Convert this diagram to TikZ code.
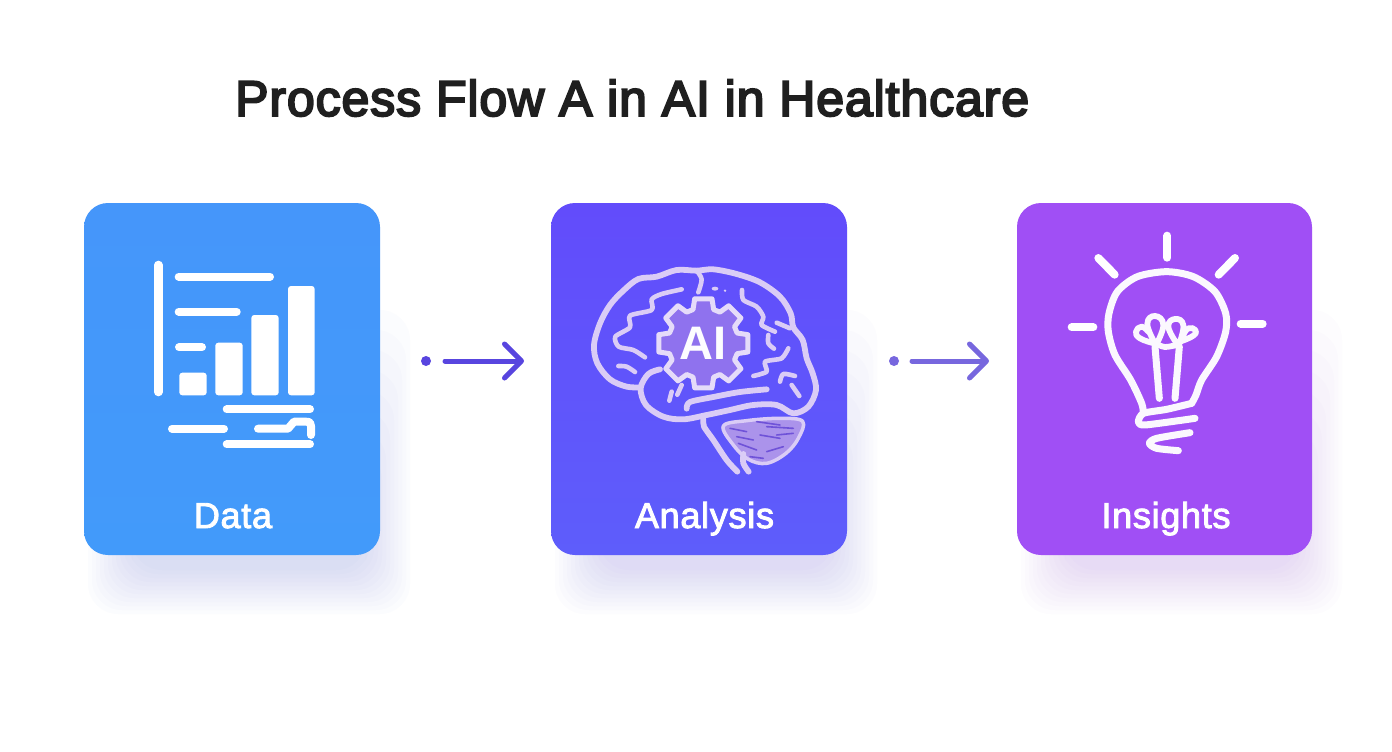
\documentclass[tikz,border=0pt]{standalone}
\usepackage{fontspec}
\setmainfont{Liberation Sans}
\newfontfamily\titlefont[LetterSpace=1.8]{Liberation Sans}
\newfontfamily\labelfont[LetterSpace=2]{Liberation Sans}
\usetikzlibrary{arrows.meta}
\definecolor{cblue}{HTML}{4596FA}
\definecolor{cviolet}{HTML}{664FFB}
\definecolor{cpurple}{HTML}{A04FF5}
\definecolor{sblue}{HTML}{3F66F0}
\definecolor{sviolet}{HTML}{6A4FF5}
\definecolor{spurple}{HTML}{A050F5}
\definecolor{lav}{HTML}{DACCF6}
\definecolor{gearfill}{HTML}{8F72EE}
\definecolor{cereb}{HTML}{AB93EB}
\definecolor{streak}{HTML}{6F52D8}
\definecolor{arrowa}{HTML}{5845DF}
\definecolor{arrowb}{HTML}{7767DE}
\newcommand{\medtext}[1]{\special{pdf:code 2 Tr 0.9 w}#1\special{pdf:code 0 Tr}}
\newcommand{\semibold}[1]{\special{pdf:code 2 Tr 2 w}#1\special{pdf:code 0 Tr}}
\tikzset{
 card/.style={rectangle,minimum width=296pt,minimum height=352pt,rounded corners=24pt,inner sep=0pt},
 cardlabel/.style={text=white,font=\labelfont\fontsize{36}{36}\selectfont,inner sep=0pt,anchor=base},
 dotnode/.style={circle,minimum size=10pt,inner sep=0pt},
 flowarrow/.style={line width=5pt,line cap=round,-{Straight Barb[length=17pt,width=34pt,round,line width=5pt]}},
 iconw/.style={white,line width=8pt,line cap=round,line join=round},
 ibar/.style={fill=white,rounded corners=3pt},
 brain/.style={lav,line width=5.8pt,line cap=round,line join=round},
 gyrus/.style={lav,line width=4.6pt,line cap=round,line join=round},
 bulb/.style={white!96!cpurple,line width=7pt,line cap=round,line join=round},
 petal/.style={bulb,line width=5.8pt},
}
\newcommand{\cardshadow}[3]{%
 \foreach \e in {32,28,...,-12}{%
  \fill[#3,opacity=0.016,rounded corners=30pt] (#1+22-\e,470-\e*5) rectangle (#2+12+\e,582+\e);
 }}
\begin{document}
\begin{tikzpicture}[x=1pt,y=-1pt]
\useasboundingbox (0,0) rectangle (1392,752);
\fill[white] (0,0) rectangle (1392,752);
\node[anchor=west,inner sep=0pt,font=\titlefont\fontsize{50}{50}\selectfont,text=black!88] (title) at (235,98) {\semibold{Process Flow A in AI in Healthcare}};

\cardshadow{98}{366}{sblue}
\cardshadow{565}{833}{sviolet}
\cardshadow{1031}{1298}{spurple}

\node[card,top color=cblue,bottom color=cblue!96!cyan] (data) at (232,379) {};
\node[card,top color=cviolet!96!blue,bottom color=cviolet!92!cyan] (analysis) at (699,379) {};
\node[card,minimum width=295pt,top color=cpurple,bottom color=cpurple] (insights) at (1164.5,379) {};

\node[cardlabel] (ldata) at (233,528) {\medtext{Data}};
\node[cardlabel] (lanalysis) at (704.5,528) {\medtext{Analysis}};
\node[cardlabel] (linsights) at (1166,528) {\medtext{Insights}};

% connectors
\node[dotnode,fill=arrowa] (d1) at (426,361) {};
\coordinate (s1) at (445,361);
\coordinate (e1) at (524,361);
\draw[flowarrow,arrowa] (s1) -- (e1);
\node[dotnode,fill=arrowb] (d2) at (894,361) {};
\coordinate (s2) at (912,361);
\coordinate (e2) at (989,361);
\draw[flowarrow,arrowb] (s2) -- (e2);

% data icon
\draw[iconw,line width=8.6pt] (158.3,265) -- (158.3,392);
\draw[iconw] (178.7,276.7) -- (270,276.7);
\draw[iconw] (178.7,311.7) -- (236.7,311.7);
\draw[iconw] (179,347.3) -- (202,347.3);
\fill[ibar] (179.3,372.7) rectangle (206.7,395.3);
\fill[ibar] (215.3,342.7) rectangle (242.7,395.3);
\fill[ibar] (251.3,315) rectangle (278.7,395.3);
\fill[ibar] (288,286) rectangle (314.7,395.3);
\draw[iconw] (226.7,409.3) -- (310,409.3);
\draw[iconw] (172,428.7) -- (224,428.7);
\draw[iconw] (258,428.7) -- (288,428.7) -- (294,421.7) -- (306,421.7) .. controls (310,421.7) and (311,423) .. (311,426) -- (311,435);
\draw[iconw] (226.7,444.3) -- (310,444.3);

% brain icon
\begin{scope}[shift={(580,250)},x=0.33333pt,y=-0.33333pt]
 \fill[cereb] plot[smooth cycle,tension=.6] coordinates {(430,528) (500,512) (600,505) (668,514) (655,565) (618,610) (560,640) (505,628) (460,585)};
 \draw[brain,line width=3.5pt] plot[smooth cycle,tension=.6] coordinates {(430,528) (500,512) (600,505) (668,514) (655,565) (618,610) (560,640) (505,628) (460,585)};
 \foreach \a/\b/\c/\d in {450/535/500/545, 530/515/600/525, 560/530/640/535, 470/560/520/570, 540/555/600/565, 475/580/530/600, 560/605/610/590, 510/620/550/625, 590/555/640/550}{
  \draw[streak,line width=1.6pt,line cap=round] (\a,\b) -- (\c,\d);
 }
 \draw[brain] plot[smooth,tension=.55] coordinates {(240,358) (205,372) (182,415) (198,465) (250,500) (310,508) (380,495) (450,480) (520,465) (590,465) (640,490) (685,470) (708,420) (698,370) (680,325) (668,270) (640,232) (632,190) (600,140) (540,97) (470,72) (400,58) (350,62) (290,60) (230,80) (175,87) (130,122) (90,165) (60,220) (42,285) (52,340) (90,388) (140,410) (182,412)};
 \draw[brain] plot[smooth,tension=.5] coordinates {(370,508) (372,530) (400,570) (440,630) (472,665)};
 \draw[brain] plot[smooth,tension=.5] coordinates {(490,612) (490,640) (506,665)};
 \draw[gyrus] plot[smooth,tension=.5] coordinates {(350,62) (365,88) (355,127)};
 \fill[lav] (405,116) ellipse (10 and 6);
 \fill[lav] (435,122) circle (4);
 \draw[gyrus] plot[smooth,tension=.45] coordinates {(305,118) (245,132) (215,148) (215,180) (150,197) (150,232) (106,260) (116,290) (160,300) (195,322)};
 \draw[gyrus] plot[smooth,tension=.5] coordinates {(115,348) (140,350) (165,366)};
 \draw[gyrus] plot[smooth,tension=.45] coordinates {(486,120) (490,150) (530,170) (550,200) (545,225) (585,245)};
 \draw[gyrus] (590,218) -- (630,235);
 \draw[gyrus] plot[smooth,tension=.5] coordinates {(565,255) (565,280) (582,296)};
 \draw[gyrus] plot[smooth,tension=.4] coordinates {(625,295) (605,325) (555,335) (560,365) (520,378)};
 \draw[gyrus] plot[smooth,tension=.5] coordinates {(600,395) (610,372) (645,378)};
 \draw[gyrus] (635,405) -- (658,438);
 \draw[brain] plot[smooth,tension=.5] coordinates {(320,476) (330,456) (400,441) (480,426) (560,418)};
 \draw[gyrus] plot[smooth,tension=.5] coordinates {(268,452) (275,425)};
 \draw[gyrus] plot[smooth,tension=.5] coordinates {(292,434) (305,405)};
 \begin{scope}[shift={(370,280)}]
  \draw[lav!70!white,line width=5pt,line join=round,fill=gearfill] (-17:106) \foreach \a in {0,45,...,315}{ -- ({\a-17}:106) -- ({\a-11}:136) -- ({\a+11}:136) -- ({\a+17}:106) } -- cycle;
  \node[text=white!96!lav,font=\bfseries\fontsize{47}{47}\selectfont,inner sep=0pt] (ai) at (0,0) {AI};
 \end{scope}
\end{scope}

% bulb icon
\begin{scope}[shift={(1060,225)},x=0.33333pt,y=-0.33333pt]
 \draw[iconw] (322,32) -- (322,98);
 \draw[iconw] (115,99) -- (164,149);
 \draw[iconw] (525,99) -- (476,149);
 \draw[iconw] (35,307) -- (100,307);
 \draw[iconw] (542,296) -- (608,296);
 \draw[bulb] plot[smooth,tension=.5] coordinates {(250,565) (245,535) (212,465) (165,390) (145,320) (147,265) (172,200) (232,155) (320,140) (400,155) (465,200) (497,265) (497,320) (470,395) (425,465) (408,510) (395,535)};
 \draw[bulb] plot[smooth,tension=.4] coordinates {(395,535) (320,553) (250,565) (235,590) (255,600) (405,580)};
 \draw[bulb] plot[smooth,tension=.45] coordinates {(390,623) (290,640) (268,655) (290,670) (355,677)};
 \draw[bulb] (298,520) -- (285,365);
 \draw[bulb] (345,520) -- (358,365);
 \draw[petal] plot[smooth,tension=.8] coordinates {(285,355) (262,297) (285,273) (310,300) (288,360)};
 \draw[petal] plot[smooth,tension=.8] coordinates {(282,355) (240,340) (228,320) (245,305) (265,320)};
 \draw[petal] plot[smooth,tension=.8] coordinates {(350,355) (325,305) (345,282) (370,300) (358,355)};
 \draw[petal] plot[smooth,tension=.8] coordinates {(360,350) (400,332) (406,315) (385,310) (370,330)};
 \draw[petal] plot[smooth,tension=.6] coordinates {(288,355) (315,366) (358,358)};
\end{scope}
\end{tikzpicture}
\end{document}
